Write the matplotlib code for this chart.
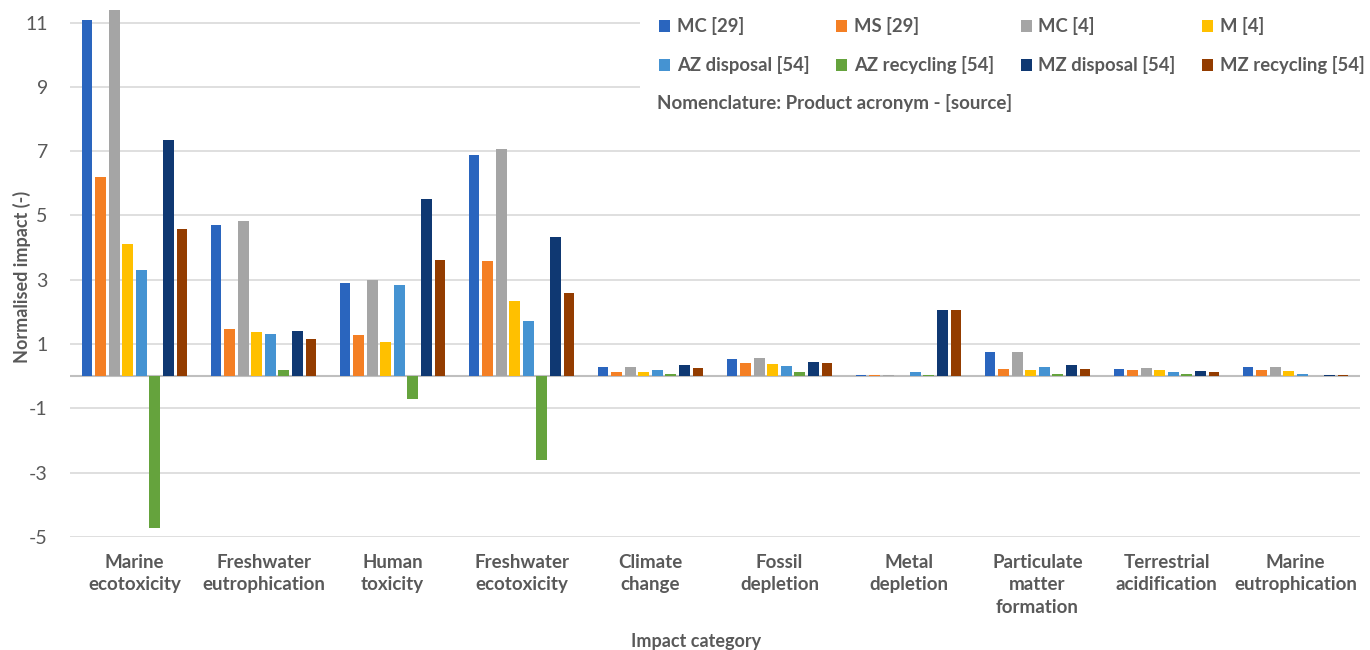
import numpy as np
import matplotlib.pyplot as plt
from matplotlib.patches import Patch, Rectangle

plt.rcParams['font.family'] = ['Lato', 'DejaVu Sans']

categories = ['Marine\necotoxicity', 'Freshwater\neutrophication', 'Human\ntoxicity',
              'Freshwater\necotoxicity', 'Climate\nchange', 'Fossil\ndepletion',
              'Metal\ndepletion', 'Particulate\nmatter\nformation', 'Terrestrial\nacidification',
              'Marine\neutrophication']

series_names = ['MC [29]', 'MS [29]', 'MC [4]', 'M [4]',
                'AZ disposal [54]', 'AZ recycling [54]', 'MZ disposal [54]', 'MZ recycling [54]']

mc_29 = [11.09, 4.69, 2.91, 6.88, 0.28, 0.54, 0.05, 0.75, 0.24, 0.29]
ms_29 = [6.20, 1.48, 1.29, 3.59, 0.14, 0.41, 0.03, 0.22, 0.20, 0.18]
mc_4 = [11.39, 4.83, 2.98, 7.07, 0.28, 0.56, 0.04, 0.76, 0.25, 0.29]
m_4 = [4.12, 1.39, 1.06, 2.33, 0.12, 0.37, 0.02, 0.19, 0.19, 0.15]
az_disposal = [3.31, 1.32, 2.83, 1.73, 0.19, 0.32, 0.13, 0.28, 0.14, 0.07]
az_recycling = [-4.73, 0.18, -0.70, -2.59, 0.06, 0.13, 0.04, 0.08, 0.07, 0.02]
mz_disposal = [7.34, 1.40, 5.50, 4.33, 0.35, 0.45, 2.07, 0.35, 0.16, 0.05]
mz_recycling = [4.58, 1.15, 3.61, 2.58, 0.26, 0.42, 2.07, 0.23, 0.13, 0.03]

series = [mc_29, ms_29, mc_4, m_4, az_disposal, az_recycling, mz_disposal, mz_recycling]
colors = ['#2a65be', '#f47f24', '#a5a5a5', '#ffc000', '#4593d2', '#65a33d', '#0f3872', '#933c00']

yticks = [-5, -3, -1, 1, 3, 5, 7, 9, 11]
grey = '#595959'

fig = plt.figure(figsize=(13.7, 6.5), dpi=100)
ax = fig.add_axes([70 / 1370, 1 - 537 / 650, 1290 / 1370, 537 / 650])

x = np.arange(len(categories))
pitch = 0.105
width = 0.083
for i, (vals, c) in enumerate(zip(series, colors)):
    ax.bar(x + (i - 3.5) * pitch, vals, width=width, color=c, zorder=2)

ax.set_xlim(-0.5, len(categories) - 0.5)
ax.set_ylim(-5, 11.7)
ax.set_yticks(yticks)
ax.set_yticklabels([str(t) for t in yticks])
ax.grid(axis='y', color='#d9d9d9', linewidth=1.2, zorder=0)
ax.axhline(0, color='#bfbfbf', linewidth=1.5, zorder=1)
ax.set_axisbelow(True)
for s in ax.spines.values():
    s.set_visible(False)

ax.set_xticks(x)
ax.set_xticklabels(categories, fontsize=13.5, fontweight='bold', color=grey, linespacing=1.4)
ax.tick_params(axis='x', length=0, pad=12)
ax.tick_params(axis='y', length=0, pad=16, labelsize=14, labelcolor=grey)

fig.text(22 / 1370, 1 - 277 / 650, 'Normalised impact (-)', rotation=90, ha='center', va='center',
         fontsize=13, fontweight='bold', color=grey)
fig.text(696 / 1370, 1 - 641 / 650, 'Impact category', ha='center', va='center',
         fontsize=13, fontweight='bold', color=grey)

# white box behind the legend hides the gridlines
ax.add_patch(Rectangle((640 / 1370, 1 - 125 / 650), 730 / 1370, 125 / 650, transform=fig.transFigure,
                       facecolor='white', edgecolor='none', zorder=1.5, clip_on=False))

# legend fills column by column, so reorder to read row by row
order = [0, 4, 1, 5, 2, 6, 3, 7]
handles = [Patch(facecolor=colors[k], label=series_names[k]) for k in order]
leg = fig.legend(handles=handles, ncol=4, loc='upper left', bbox_to_anchor=(650 / 1370, 1 - 8 / 650),
                 frameon=False, fontsize=13.3, handlelength=0.6, handleheight=0.6, handletextpad=0.35,
                 columnspacing=1.45, labelspacing=1.15, borderpad=0)
for t in leg.get_texts():
    t.set_color(grey)
    t.set_fontweight('bold')

fig.text(657 / 1370, 1 - 103 / 650, 'Nomenclature: Product acronym - [source]', ha='left', va='center',
         fontsize=13.5, fontweight='bold', color=grey)

fig.savefig('out.png', dpi=100)
